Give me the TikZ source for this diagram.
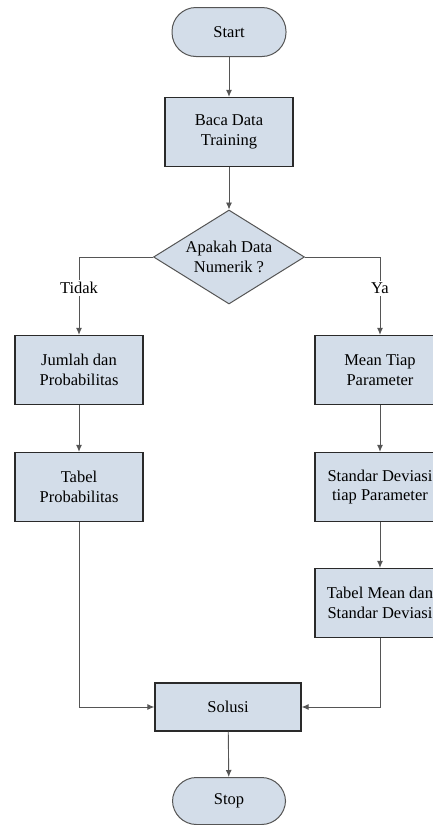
\documentclass[tikz,border=0pt]{standalone}
\usepackage{fontspec}
\setmainfont{Liberation Serif}
\usetikzlibrary{arrows.meta,shapes.geometric}
\definecolor{boxfill}{HTML}{D3DDE9}
\definecolor{edge}{HTML}{2A2A2A}
\definecolor{conncol}{HTML}{555555}
\begin{document}
\begin{tikzpicture}[x=1pt,y=-1pt,
  txt/.style={font=\fontsize{16.5}{19.5}\selectfont,align=center},
  box/.style={txt,draw=edge,line width=1.3pt,fill=boxfill,inner sep=0pt,minimum width=128pt,minimum height=69pt},
  pill/.style={txt,draw=edge!80,line width=1pt,fill=boxfill,inner sep=0pt,rounded corners=24pt,minimum width=114pt,minimum height=49pt},
  dia/.style={diamond,draw=edge!80,line width=1pt,fill=boxfill,inner sep=0pt,minimum width=151pt,minimum height=94pt},
  conn/.style={draw=conncol,line width=0.9pt,-{Latex[length=7pt,width=6pt]}},
  lbl/.style={txt,fill=white,inner sep=2pt}]
\useasboundingbox (0,0) rectangle (433,825);
\node[pill] (start) at (229,32) {Start};
\node[box] (baca) at (229,132) {Baca Data\\Training};
\node[dia] (dec) at (229,257) {};
\node[txt] (dectext) at (229,257) {Apakah Data\\Numerik ?};
\node[box] (jumlah) at (79,370) {Jumlah dan\\Probabilitas};
\node[box] (tabelp) at (79,487) {Tabel\\Probabilitas};
\node[box,minimum width=130pt] (mean) at (380,370) {Mean Tiap\\Parameter};
\node[box,minimum width=130pt] (std) at (380,487) {Standar Deviasi\\tiap Parameter};
\node[box,minimum width=130pt] (tabelm) at (380,603) {Tabel Mean dan\\Standar Deviasi};
\node[box,minimum width=146pt,minimum height=48pt] (solusi) at (228,707) {Solusi};
\node[pill,minimum width=113pt,minimum height=47pt] (stop) at (229,801) {Stop};
\draw[conn] (start) -- (baca);
\draw[conn] (baca) -- (dec);
\draw[conn] (dec.west) -| node[lbl,pos=0.7] (tidak) {Tidak} (jumlah.north);
\draw[conn] (dec.east) -| node[lbl,pos=0.7] (ya) {Ya} (mean.north);
\draw[conn] (jumlah) -- (tabelp);
\draw[conn] (mean) -- (std);
\draw[conn] (std) -- (tabelm);
\draw[conn] (tabelp.south) |- (solusi.west);
\draw[conn] (tabelm.south) |- (solusi.east);
\draw[conn] (solusi) -- (stop);
\end{tikzpicture}
\end{document}
